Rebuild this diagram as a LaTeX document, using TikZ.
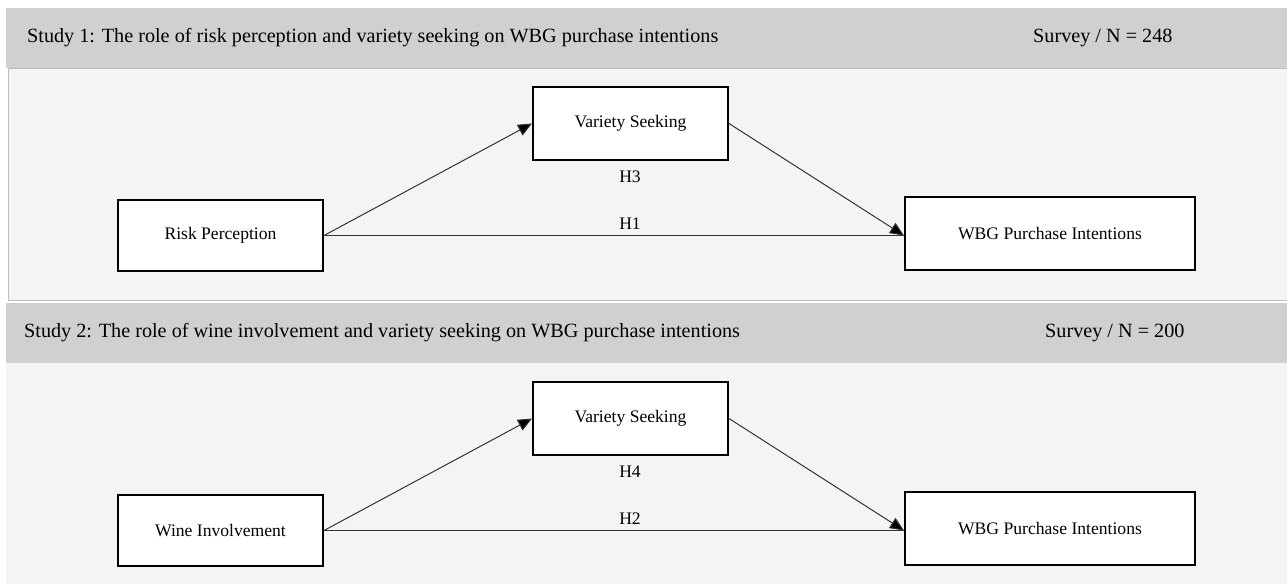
\documentclass[tikz,border=0pt]{standalone}
\usepackage{fontspec}
\setmainfont{Liberation Serif}
\usetikzlibrary{arrows.meta}
\usetikzlibrary{positioning}
\definecolor{bandgray}{HTML}{CFD0D2}
\definecolor{panelgray}{HTML}{F4F4F4}
\definecolor{rulegray}{HTML}{BDBDBD}
\newcommand{\boxfont}{\fontsize{17.6}{20}\selectfont}
\newcommand{\headfont}{\fontsize{20.2}{23}\selectfont}

\begin{document}
\begin{tikzpicture}[
  x=1pt, y=-1pt,
  construct/.style={draw=black, line width=2pt, fill=white, inner sep=0pt, font=\boxfont},
  link/.style={draw=black!80, line width=1pt, -{Triangle[length=14pt,width=12pt,fill=black]}},
  plain/.style={draw=black!80, line width=1pt},
  hyp/.style={font=\boxfont, inner sep=0pt},
  headtext/.style={font=\headfont, anchor=west, inner sep=0pt}
]
\useasboundingbox (0,0) rectangle (1287,584);

% backgrounds
\fill[bandgray] (6,8) rectangle (1287,68);
\filldraw[fill=panelgray, draw=rulegray, line width=1pt] (8,68) rectangle (1295,300);
\fill[bandgray] (6,303) rectangle (1287,363);
\fill[panelgray] (6,363) rectangle (1287,584);

% study 1
\node[headtext] (title1) at (27,38) {Study 1: The role of risk perception and variety seeking on WBG purchase intentions};
\node[headtext] (survey1) at (1033,38) {Survey / N = 248};

\node[construct, minimum width=205pt, minimum height=71pt] (risk) at (220.5,235.5) {Risk Perception};
\node[construct, minimum width=195pt, minimum height=73pt] (var1) at (630.5,123.5) {Variety Seeking};
\node[construct, minimum width=290pt, minimum height=73pt] (wbg1) at (1050,233.5) {WBG Purchase Intentions};
\node[hyp] (h3) at (630,177) {H3};
\node[hyp] (h1) at (630,224) {H1};

\coordinate (end1) at (risk.east -| wbg1.west);
\draw[link] (risk.east) -- (var1.west);
\draw[plain] (risk.east) -- (end1);
\draw[link] (var1.east) -- (end1);

% study 2
\node[headtext] (title2) at (24,333) {Study 2: The role of wine involvement and variety seeking on WBG purchase intentions};
\node[headtext] (survey2) at (1045,333) {Survey / N = 200};

\node[construct, minimum width=205pt, minimum height=71pt] (wine) at (220.5,530.5) {Wine Involvement};
\node[construct, minimum width=195pt, minimum height=73pt] (var2) at (630.5,418.5) {Variety Seeking};
\node[construct, minimum width=290pt, minimum height=73pt] (wbg2) at (1050,528.5) {WBG Purchase Intentions};
\node[hyp] (h4) at (630,472) {H4};
\node[hyp] (h2) at (630,519) {H2};

\coordinate (end2) at (wine.east -| wbg2.west);
\draw[link] (wine.east) -- (var2.west);
\draw[plain] (wine.east) -- (end2);
\draw[link] (var2.east) -- (end2);

\end{tikzpicture}
\end{document}
